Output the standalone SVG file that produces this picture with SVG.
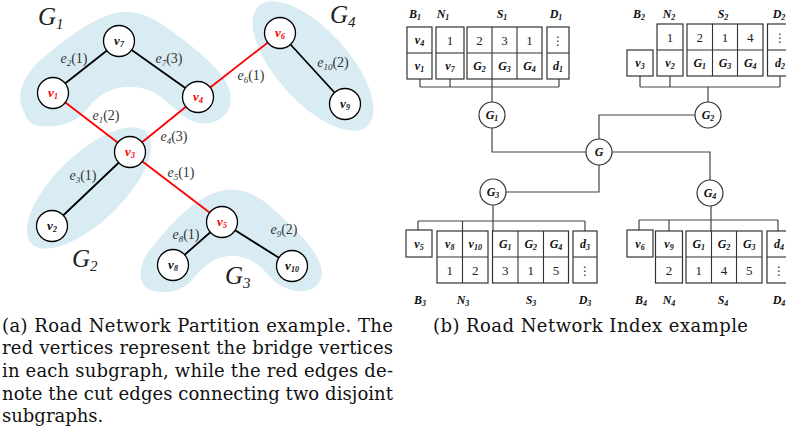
<svg xmlns="http://www.w3.org/2000/svg" width="786" height="440" viewBox="0 0 786 440">
<style>
.blob{fill:#d9ecf3}
.e{stroke:#000;stroke-width:1.8}
.cut{stroke:#ff0000;stroke-width:1.8}
.node circle{fill:#fff;stroke:#000;stroke-width:1.3}
.vl{font-family:"Liberation Serif",serif;font-weight:bold;font-style:italic;font-size:13px;text-anchor:middle;fill:#111}
.red{fill:#ff0000}
.s{font-size:8px}
.el{font-family:"Liberation Serif",serif;font-size:14px;fill:#333;text-anchor:middle}
.el .i{font-style:italic}
.el .s{font-size:9px;font-style:italic}
.gl{font-family:"Liberation Serif",serif;font-style:italic;font-size:25px;fill:#222}
.gl .gs{font-size:15px}
.box{fill:#fff;stroke:#333;stroke-width:1.2}
.div{stroke:#333;stroke-width:1.1}
.wire{stroke:#444;stroke-width:1.2;fill:none}
.inode circle{fill:#fff;stroke:#333;stroke-width:1.2}
.ct{font-family:"Liberation Serif",serif;font-size:12px;font-weight:bold;font-style:italic;text-anchor:middle;fill:#111}
.num{font-family:"Liberation Serif",serif;font-size:13px;text-anchor:middle;fill:#222}
.dots{font-family:"DejaVu Sans",sans-serif;font-size:12px;text-anchor:middle;fill:#222}
.cap{font-family:"DejaVu Serif",serif;font-size:18px;fill:#111}
</style>

<g id="blobs">
<path class="blob" d="M24,112 C14,95 25,70 50,52 C75,32 100,14 122,12 C145,10 165,25 190,45 C215,65 235,85 230,105 C226,122 205,128 190,120 C175,112 165,95 145,89 C120,82 100,92 88,108 C78,122 60,128 40,126 C30,125 27,120 24,112 Z"/>
<ellipse class="blob" cx="313" cy="66" rx="81" ry="36" transform="rotate(48 313 66)"/>
<ellipse class="blob" cx="89" cy="188" rx="80" ry="34" transform="rotate(-44 89 188)"/>
<path class="blob" d="M150,290 C138,285 137,265 150,250 C170,225 195,195 225,190 C255,186 275,210 300,235 C318,253 330,275 315,287 C300,297 280,288 270,277 C258,262 245,255 230,256 C212,257 200,270 192,280 C182,292 165,295 150,290 Z"/>
</g>

<g id="group-labels">
<text class="gl" x="38" y="25">G<tspan class="gs" dy="4">1</tspan></text>
<text class="gl" x="330" y="23">G<tspan class="gs" dy="4">4</tspan></text>
<text class="gl" x="72" y="267">G<tspan class="gs" dy="4">2</tspan></text>
<text class="gl" x="225" y="284">G<tspan class="gs" dy="4">3</tspan></text>
</g>

<g id="edges">
<line class="e" x1="53" y1="93" x2="119" y2="41"/>
<line class="e" x1="119" y1="41" x2="198" y2="97"/>
<line class="cut" x1="198" y1="97" x2="280" y2="33"/>
<line class="e" x1="280" y1="33" x2="345" y2="104"/>
<line class="cut" x1="53" y1="93" x2="130" y2="152"/>
<line class="cut" x1="198" y1="97" x2="130" y2="152"/>
<line class="e" x1="130" y1="152" x2="52" y2="226"/>
<line class="cut" x1="130" y1="152" x2="222" y2="222"/>
<line class="e" x1="222" y1="222" x2="173" y2="265"/>
<line class="e" x1="222" y1="222" x2="292" y2="266"/>
</g>

<g id="edge-labels">
<text class="el" x="74" y="63"><tspan class="i">e</tspan><tspan class="s" dy="3">2</tspan><tspan dy="-3">(1)</tspan></text>
<text class="el" x="169" y="63"><tspan class="i">e</tspan><tspan class="s" dy="3">7</tspan><tspan dy="-3">(3)</tspan></text>
<text class="el" x="251" y="80"><tspan class="i">e</tspan><tspan class="s" dy="3">6</tspan><tspan dy="-3">(1)</tspan></text>
<text class="el" x="333" y="67"><tspan class="i">e</tspan><tspan class="s" dy="3">10</tspan><tspan dy="-3">(2)</tspan></text>
<text class="el" x="106" y="120"><tspan class="i">e</tspan><tspan class="s" dy="3">1</tspan><tspan dy="-3">(2)</tspan></text>
<text class="el" x="174" y="141"><tspan class="i">e</tspan><tspan class="s" dy="3">4</tspan><tspan dy="-3">(3)</tspan></text>
<text class="el" x="83" y="180"><tspan class="i">e</tspan><tspan class="s" dy="3">3</tspan><tspan dy="-3">(1)</tspan></text>
<text class="el" x="181" y="177"><tspan class="i">e</tspan><tspan class="s" dy="3">5</tspan><tspan dy="-3">(1)</tspan></text>
<text class="el" x="186" y="239"><tspan class="i">e</tspan><tspan class="s" dy="3">8</tspan><tspan dy="-3">(1)</tspan></text>
<text class="el" x="284" y="234"><tspan class="i">e</tspan><tspan class="s" dy="3">9</tspan><tspan dy="-3">(2)</tspan></text>
</g>

<g id="v1" class="node"><circle cx="53" cy="93" r="15.5"/><text class="vl red" x="53" y="97">v<tspan class="s" dy="2">1</tspan></text></g>
<g id="v7" class="node"><circle cx="119" cy="41" r="15.5"/><text class="vl" x="119" y="45">v<tspan class="s" dy="2">7</tspan></text></g>
<g id="v4" class="node"><circle cx="198" cy="97" r="15.5"/><text class="vl red" x="198" y="101">v<tspan class="s" dy="2">4</tspan></text></g>
<g id="v6" class="node"><circle cx="280" cy="33" r="15.5"/><text class="vl red" x="280" y="37">v<tspan class="s" dy="2">6</tspan></text></g>
<g id="v9" class="node"><circle cx="345" cy="104" r="15.5"/><text class="vl" x="345" y="108">v<tspan class="s" dy="2">9</tspan></text></g>
<g id="v3" class="node"><circle cx="130" cy="152" r="15.5"/><text class="vl red" x="130" y="156">v<tspan class="s" dy="2">3</tspan></text></g>
<g id="v2" class="node"><circle cx="52" cy="226" r="15.5"/><text class="vl" x="52" y="230">v<tspan class="s" dy="2">2</tspan></text></g>
<g id="v5" class="node"><circle cx="222" cy="222" r="15.5"/><text class="vl red" x="222" y="226">v<tspan class="s" dy="2">5</tspan></text></g>
<g id="v8" class="node"><circle cx="173" cy="265" r="15.5"/><text class="vl" x="173" y="269">v<tspan class="s" dy="2">8</tspan></text></g>
<g id="v10" class="node"><circle cx="292" cy="266" r="15.5"/><text class="vl" x="292" y="270">v<tspan class="s" dy="2">10</tspan></text></g>

<g id="index-wires">
<path class="wire" d="M420,79V87M450,79V87M559,79V87M420,87H559M492,79V102"/>
<path class="wire" d="M492,128V152H586"/>
<path class="wire" d="M640,76V87M670,76V87M780,76V87M640,87H780M708,87V102"/>
<path class="wire" d="M695,115H599V139"/>
<path class="wire" d="M506,192H599V165"/>
<path class="wire" d="M612,152H710V180"/>
<path class="wire" d="M493,205V231M418,221H585M418,221V230M462.5,221V231M585,221V231"/>
<path class="wire" d="M711,206V231M639,220H778M639,220V230M669,220V231M778,220V231"/>
</g>

<g id="G" class="inode"><circle cx="599" cy="152" r="13"/><text class="ct" x="599" y="156">G</text></g>
<g id="G1" class="inode"><circle cx="492" cy="115" r="13"/><text class="ct" x="492" y="119">G<tspan class="s" dy="2">1</tspan></text></g>
<g id="G2" class="inode"><circle cx="708" cy="115" r="13"/><text class="ct" x="708" y="119">G<tspan class="s" dy="2">2</tspan></text></g>
<g id="G3" class="inode"><circle cx="493" cy="192" r="13"/><text class="ct" x="493" y="196">G<tspan class="s" dy="2">3</tspan></text></g>
<g id="G4" class="inode"><circle cx="710" cy="193" r="13"/><text class="ct" x="710" y="197">G<tspan class="s" dy="2">4</tspan></text></g>

<g id="index-G1">
<rect class="box" x="407" y="27" width="25" height="52"/><line class="div" x1="407" y1="53" x2="432" y2="53"/>
<text class="ct" x="419.5" y="44">v<tspan class="s" dy="2">4</tspan></text>
<text class="ct" x="419.5" y="70">v<tspan class="s" dy="2">1</tspan></text>
<rect class="box" x="436" y="27" width="28" height="52"/><line class="div" x1="436" y1="53" x2="464" y2="53"/>
<text class="num" x="450" y="45">1</text>
<text class="ct" x="450" y="70">v<tspan class="s" dy="2">7</tspan></text>
<rect class="box" x="467" y="27" width="75" height="52"/><path class="div" d="M467,53H542M492,27V79M517,27V79"/>
<text class="num" x="479.5" y="45">2</text><text class="num" x="504.5" y="45">3</text><text class="num" x="529.5" y="45">1</text>
<text class="ct" x="479.5" y="70">G<tspan class="s" dy="2">2</tspan></text>
<text class="ct" x="504.5" y="70">G<tspan class="s" dy="2">3</tspan></text>
<text class="ct" x="529.5" y="70">G<tspan class="s" dy="2">4</tspan></text>
<rect class="box" x="547" y="27" width="22" height="52"/><line class="div" x1="547" y1="53" x2="569" y2="53"/>
<text class="dots" x="558" y="45">⋮</text>
<text class="ct" x="558" y="70">d<tspan class="s" dy="2">1</tspan></text>
<text class="ct" x="415" y="18">B<tspan class="s" dy="2">1</tspan></text>
<text class="ct" x="443" y="18">N<tspan class="s" dy="2">1</tspan></text>
<text class="ct" x="502" y="18">S<tspan class="s" dy="2">1</tspan></text>
<text class="ct" x="556" y="18">D<tspan class="s" dy="2">1</tspan></text>
</g>

<g id="index-G2">
<rect class="box" x="627" y="50" width="26" height="26"/>
<text class="ct" x="640" y="67">v<tspan class="s" dy="2">3</tspan></text>
<rect class="box" x="657" y="24" width="26" height="52"/><line class="div" x1="657" y1="50" x2="683" y2="50"/>
<text class="num" x="670" y="42">1</text>
<text class="ct" x="670" y="67">v<tspan class="s" dy="2">2</tspan></text>
<rect class="box" x="687" y="24" width="76" height="52"/><path class="div" d="M687,50H763M712.5,24V76M737.5,24V76"/>
<text class="num" x="699.75" y="42">2</text><text class="num" x="725" y="42">1</text><text class="num" x="750.25" y="42">4</text>
<text class="ct" x="699.75" y="67">G<tspan class="s" dy="2">1</tspan></text>
<text class="ct" x="725" y="67">G<tspan class="s" dy="2">3</tspan></text>
<text class="ct" x="750.25" y="67">G<tspan class="s" dy="2">4</tspan></text>
<rect class="box" x="767.5" y="24" width="25" height="52"/><line class="div" x1="767.5" y1="50" x2="792.5" y2="50"/>
<text class="dots" x="780" y="42">⋮</text>
<text class="ct" x="780" y="67">d<tspan class="s" dy="2">2</tspan></text>
<text class="ct" x="639" y="18">B<tspan class="s" dy="2">2</tspan></text>
<text class="ct" x="669" y="18">N<tspan class="s" dy="2">2</tspan></text>
<text class="ct" x="723" y="18">S<tspan class="s" dy="2">2</tspan></text>
<text class="ct" x="779" y="18">D<tspan class="s" dy="2">2</tspan></text>
</g>

<g id="index-G3">
<rect class="box" x="406" y="230" width="26" height="27"/>
<text class="ct" x="419" y="248">v<tspan class="s" dy="2">5</tspan></text>
<rect class="box" x="437" y="231" width="51" height="52"/><path class="div" d="M437,257H488M462.5,231V283"/>
<text class="ct" x="449.75" y="248">v<tspan class="s" dy="2">8</tspan></text>
<text class="ct" x="475.25" y="248">v<tspan class="s" dy="2">10</tspan></text>
<text class="num" x="449.75" y="275">1</text><text class="num" x="475.25" y="275">2</text>
<rect class="box" x="492.5" y="231" width="76" height="52"/><path class="div" d="M492.5,257H568.5M518,231V283M543.5,231V283"/>
<text class="ct" x="505.25" y="248">G<tspan class="s" dy="2">1</tspan></text>
<text class="ct" x="530.75" y="248">G<tspan class="s" dy="2">2</tspan></text>
<text class="ct" x="556" y="248">G<tspan class="s" dy="2">4</tspan></text>
<text class="num" x="505.25" y="275">3</text><text class="num" x="530.75" y="275">1</text><text class="num" x="556" y="275">5</text>
<rect class="box" x="573" y="231" width="24" height="52"/><line class="div" x1="573" y1="257" x2="597" y2="257"/>
<text class="ct" x="585" y="248">d<tspan class="s" dy="2">3</tspan></text>
<text class="dots" x="585" y="275">⋮</text>
<text class="ct" x="420" y="304">B<tspan class="s" dy="2">3</tspan></text>
<text class="ct" x="463" y="304">N<tspan class="s" dy="2">3</tspan></text>
<text class="ct" x="531" y="304">S<tspan class="s" dy="2">3</tspan></text>
<text class="ct" x="585" y="304">D<tspan class="s" dy="2">3</tspan></text>
</g>

<g id="index-G4">
<rect class="box" x="627" y="230" width="26" height="27"/>
<text class="ct" x="640" y="248">v<tspan class="s" dy="2">6</tspan></text>
<rect class="box" x="655.5" y="231" width="27" height="52"/><line class="div" x1="655.5" y1="257" x2="682.5" y2="257"/>
<text class="ct" x="669" y="248">v<tspan class="s" dy="2">9</tspan></text>
<text class="num" x="669" y="275">2</text>
<rect class="box" x="686" y="231" width="76" height="52"/><path class="div" d="M686,257H762M711.5,231V283M736.5,231V283"/>
<text class="ct" x="698.75" y="248">G<tspan class="s" dy="2">1</tspan></text>
<text class="ct" x="724" y="248">G<tspan class="s" dy="2">2</tspan></text>
<text class="ct" x="749.25" y="248">G<tspan class="s" dy="2">3</tspan></text>
<text class="num" x="698.75" y="275">1</text><text class="num" x="724" y="275">4</text><text class="num" x="749.25" y="275">5</text>
<rect class="box" x="767" y="231" width="24" height="52"/><line class="div" x1="767" y1="257" x2="791" y2="257"/>
<text class="ct" x="779" y="248">d<tspan class="s" dy="2">4</tspan></text>
<text class="dots" x="779" y="275">⋮</text>
<text class="ct" x="641" y="304">B<tspan class="s" dy="2">4</tspan></text>
<text class="ct" x="669" y="304">N<tspan class="s" dy="2">4</tspan></text>
<text class="ct" x="723" y="304">S<tspan class="s" dy="2">4</tspan></text>
<text class="ct" x="779" y="304">D<tspan class="s" dy="2">4</tspan></text>
</g>

<g id="captions">
<text class="cap" x="2" y="332" textLength="391" lengthAdjust="spacing">(a) Road Network Partition example. The</text>
<text class="cap" x="2" y="354" textLength="391" lengthAdjust="spacing">red vertices represent the bridge vertices</text>
<text class="cap" x="2" y="377" textLength="391" lengthAdjust="spacing">in each subgraph, while the red edges de-</text>
<text class="cap" x="2" y="400" textLength="391" lengthAdjust="spacing">note the cut edges connecting two disjoint</text>
<text class="cap" x="2" y="422">subgraphs.</text>
<text class="cap" x="433" y="332" textLength="315" lengthAdjust="spacing">(b) Road Network Index example</text>
</g>
</svg>
